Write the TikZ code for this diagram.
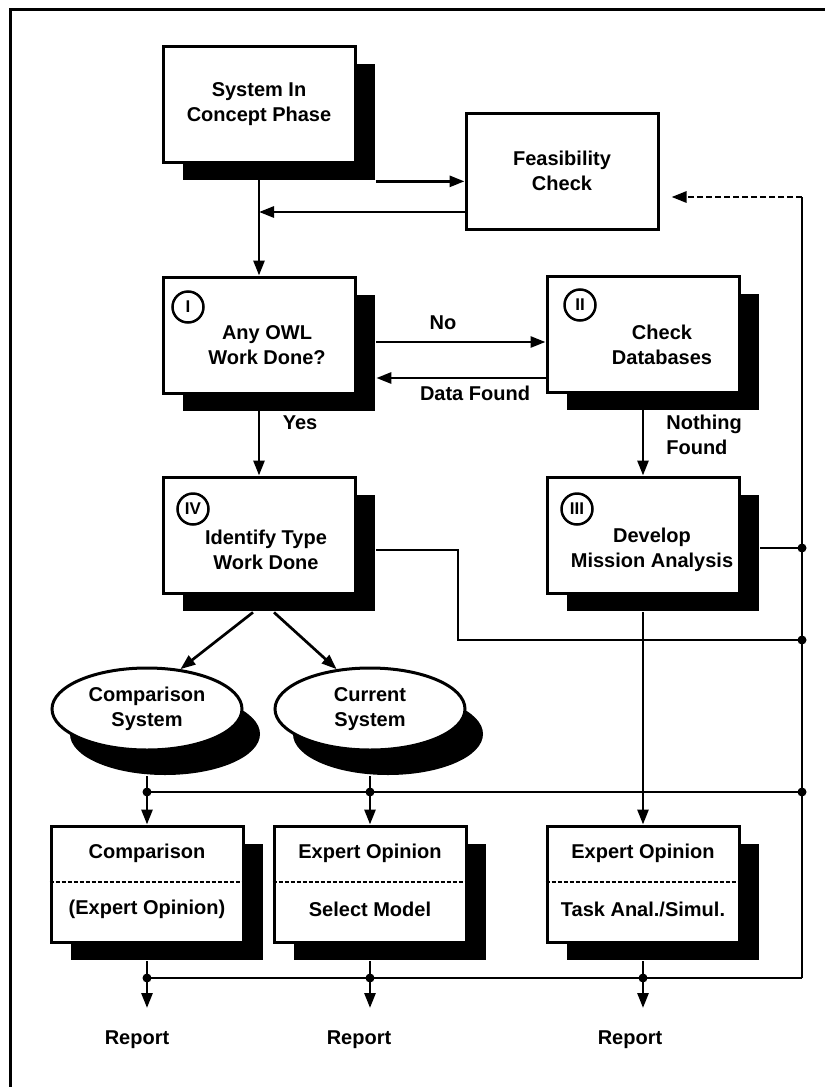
\documentclass[tikz,border=0pt]{standalone}
\usepackage{fontspec}
\setmainfont{Liberation Sans}
\usetikzlibrary{arrows.meta,shapes.geometric}

\begin{document}
\begin{tikzpicture}[x=1pt,y=-1pt,>={Triangle[length=15pt,width=11pt]},
  line width=2.7pt,line join=miter,
  font=\fontsize{20}{25}\selectfont\bfseries,
  shd/.style={fill=black,minimum width=192pt,minimum height=116pt,inner sep=0pt},
  box/.style={draw,fill=white,line width=3pt,minimum width=192pt,minimum height=116pt,inner sep=0pt,align=center},
  ovsh/.style={ellipse,fill=black,minimum width=190pt,minimum height=82pt,inner sep=0pt},
  oval/.style={ellipse,draw,fill=white,line width=3pt,minimum width=190pt,minimum height=82pt,inner sep=0pt,align=center},
  num/.style={circle,draw,line width=2.5pt,minimum size=31pt,inner sep=0pt,font=\fontsize{17}{17}\selectfont\bfseries},
  txt/.style={align=center,inner sep=0pt},
  split/.style={dashed,dash pattern=on 4pt off 2pt,line width=1.8pt}]
\useasboundingbox (0,0) rectangle (825,1087);
\fill[white] (0,0) rectangle (825,1087);
\draw[line width=3pt] (10,1087) -- (10,9) -- (825,9);

% shadows (offset 20,18)
\node[shd] (sys-s) at (279,122) {};
\node[shd] (owl-s) at (279,353) {};
\node[shd] (db-s)  at (663,352) {};
\node[shd] (idt-s) at (279,553) {};
\node[shd] (dev-s) at (663,553) {};
\node[shd] (cmpo-s) at (167,902) {};
\node[shd] (selm-s) at (390,902) {};
\node[shd] (task-s) at (663,902) {};
\node[ovsh] (cmp-s) at (165,734) {};
\node[ovsh] (cur-s) at (388,734) {};

% boxes
\node[box] (sys)  at (259,104) {System In\\Concept Phase};
\node[box] (feas) at (562,171) {Feasibility\\Check};
\node[box] (owl)  at (259,335) {};
\node[box] (db)   at (643,334) {};
\node[box] (idt)  at (259,535) {};
\node[box] (dev)  at (643,535) {};
\node[box] (cmpo) at (147,884) {};
\node[box] (selm) at (370,884) {};
\node[box] (task) at (643,884) {};
\node[oval] (cmp) at (147,709) {Comparison\\System};
\node[oval] (cur) at (370,709) {Current\\System};

\node[txt] (owl-t) at (267,345) {Any OWL\\Work Done?};
\node[txt] (db-t)  at (662,345) {Check\\Databases};
\node[txt] (idt-t) at (266,550) {Identify Type\\Work Done};
\node[txt] (dev-t) at (652,550) {Develop\\Mission Analysis};
\node[num] (owl-n) at (188,307) {I};
\node[num] (db-n)  at (580,305) {II};
\node[num] (idt-n) at (193,509) {IV};
\node[num] (dev-n) at (577,509) {III};

\node[txt] (cmpo-a) at (147,853) {Comparison};
\node[txt] (cmpo-b) at (147,909) {(Expert Opinion)};
\node[txt] (selm-a) at (370,853) {Expert Opinion};
\node[txt] (selm-b) at (370,909) {Select Model};
\node[txt] (task-a) at (643,853) {Expert Opinion};
\node[txt] (task-b) at (643,909) {Task Anal./Simul.};
\draw[split] (cmpo.west |- 0,882) -- (cmpo.east |- 0,882);
\draw[split] (selm.west |- 0,882) -- (selm.east |- 0,882);
\draw[split] (task.west |- 0,882) -- (task.east |- 0,882);

% labels
\node[txt] (no)   at (443,323) {No};
\node[txt] (dfnd) at (475,393) {Data Found};
\node[txt] (yes)  at (300,423) {Yes};
\node[txt,align=left,anchor=west] (nfnd) at (665,435) {Nothing\\Found};
\node[txt] (rep-a) at (137,1040) {Report};
\node[txt] (rep-b) at (359,1040) {Report};
\node[txt] (rep-c) at (630,1040) {Report};

% junctions and bends
\coordinate (rt-top) at (802,197);
\coordinate (rt-dev) at (802,548);
\coordinate (rt-idt) at (802,640);
\coordinate (rt-bus) at (802,792);
\coordinate (rt-bot) at (802,978);
\coordinate (idt-bend) at (458,640);
\coordinate (out-a) at (147,1008);
\coordinate (out-b) at (370,1008);
\coordinate (out-c) at (643,1008);

% connectors
\draw[->] (sys-s.south east) -- (sys-s.south east -| feas.west);
\draw[->] (feas.west |- 0,212) -- (sys.south |- 0,212);
\draw[->] (sys.south) -- (owl.north);
\draw[->] (owl-s.east |- 0,342) -- (db.west |- 0,342);
\draw[->] (db.west |- 0,378) -- (owl-s.east |- 0,378);
\draw[->] (owl.south) -- (idt.north);
\draw[->] (db.south) -- (dev.north);
\draw[->] (idt-s.south -| 253,0) -- (cmp.50);
\draw[->] (idt-s.south -| 274,0) -- (cur.130);
\draw (idt-s.east |- 0,550) -| (idt-bend) -- (rt-idt);
\draw (dev-s.east |- 0,548) -- (rt-dev);
\draw (rt-bot) -- (rt-top);
\draw[->,dash pattern=on 6pt off 3pt,shorten >=12pt] (rt-top) -- (feas.east |- rt-top);
\draw (cmp.south |- 0,792) -- (rt-bus);
\draw[->] (cmp.south |- cmp-s.south) -- (cmpo.north);
\draw[->] (cur.south |- cur-s.south) -- (selm.north);
\draw[->] (dev-s.south -| dev.south) -- (task.north);
\draw (cmpo.south |- 0,978) -- (rt-bot);
\draw[->] (cmpo.south |- cmpo-s.south) -- (out-a);
\draw[->] (selm.south |- selm-s.south) -- (out-b);
\draw[->] (task.south |- task-s.south) -- (out-c);
\foreach \p in {(802,548),(802,640),(802,792),(370,792),(147,792),(370,978),(643,978),(147,978)}
  \fill \p circle (4.5pt);
\end{tikzpicture}
\end{document}
